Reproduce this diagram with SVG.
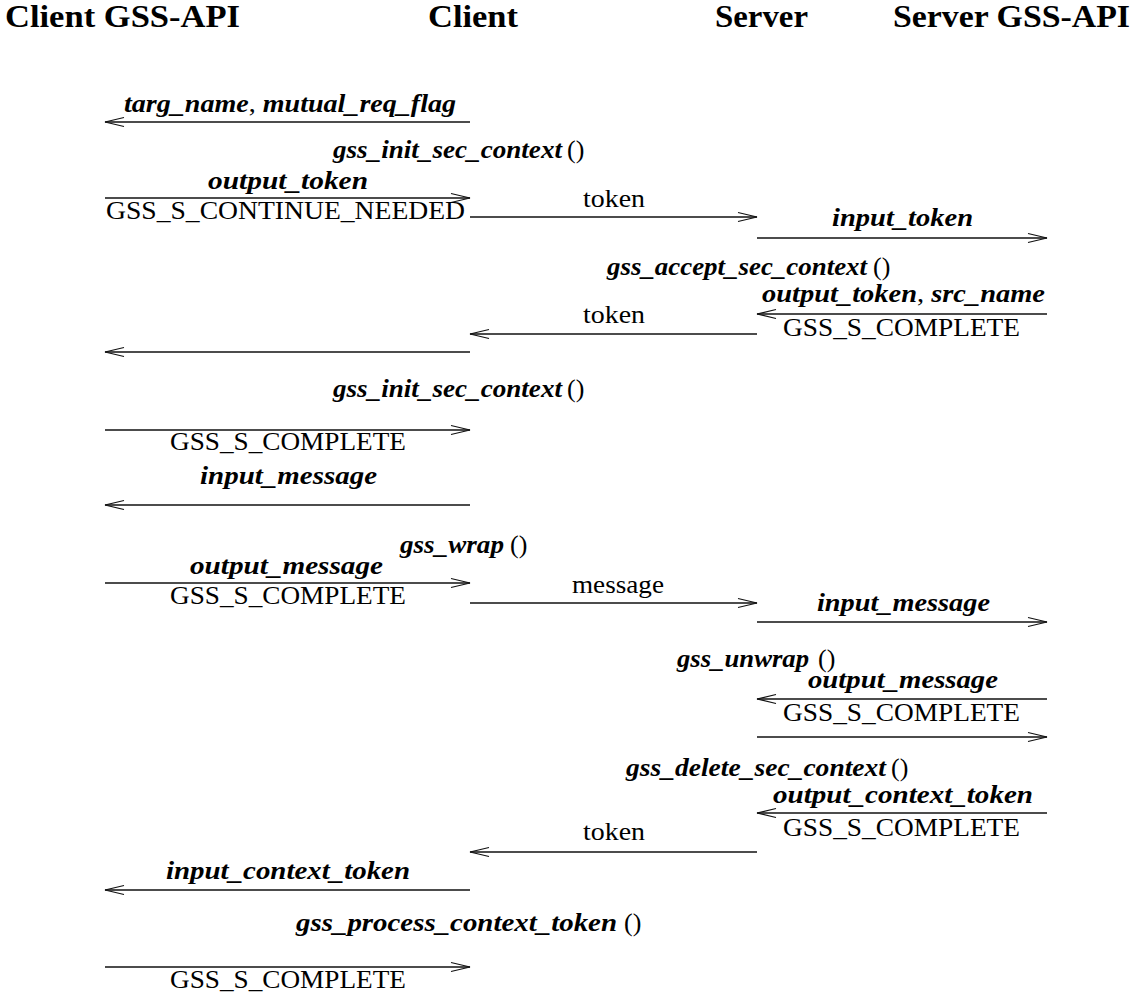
<svg xmlns="http://www.w3.org/2000/svg" width="1134" height="992" viewBox="0 0 1134 992">
<style>
text{font-family:"Liberation Serif","Times New Roman",serif;fill:#000}
.h{font-size:32px;font-weight:bold}
.bi{font-size:26px;font-weight:bold;font-style:italic}
.r{font-size:26px}
.c line{stroke:#111;stroke-width:1.4}
</style>
<defs>
<marker id="ah" viewBox="-20 -6 22 12" refX="0" refY="0" markerWidth="22" markerHeight="12" markerUnits="userSpaceOnUse" orient="auto">
<path d="M-19,-4.5 L0,0 L-19,4.5" fill="none" stroke="#111" stroke-width="1.2"/>
</marker>
</defs>
<rect width="1134" height="992" fill="#fff"/>
<g id="headers">
<g id="client-gssapi"><text class="h" x="5" y="27" textLength="235" lengthAdjust="spacingAndGlyphs">Client GSS-API</text></g>
<g id="client"><text class="h" x="428" y="27" textLength="90" lengthAdjust="spacingAndGlyphs">Client</text></g>
<g id="server"><text class="h" x="715" y="27" textLength="93" lengthAdjust="spacingAndGlyphs">Server</text></g>
<g id="server-gssapi"><text class="h" x="893" y="27" textLength="237" lengthAdjust="spacingAndGlyphs">Server GSS-API</text></g>
</g>
<g id="connectors" class="c">
<line x1="470" y1="122" x2="105" y2="122" marker-end="url(#ah)"/>
<line x1="105" y1="198" x2="470" y2="198" marker-end="url(#ah)"/>
<line x1="470" y1="217" x2="757" y2="217" marker-end="url(#ah)"/>
<line x1="757" y1="238" x2="1047" y2="238" marker-end="url(#ah)"/>
<line x1="1047" y1="314" x2="757" y2="314" marker-end="url(#ah)"/>
<line x1="757" y1="334" x2="470" y2="334" marker-end="url(#ah)"/>
<line x1="470" y1="352" x2="105" y2="352" marker-end="url(#ah)"/>
<line x1="105" y1="430" x2="470" y2="430" marker-end="url(#ah)"/>
<line x1="470" y1="505" x2="105" y2="505" marker-end="url(#ah)"/>
<line x1="105" y1="583" x2="470" y2="583" marker-end="url(#ah)"/>
<line x1="470" y1="603" x2="757" y2="603" marker-end="url(#ah)"/>
<line x1="757" y1="622" x2="1047" y2="622" marker-end="url(#ah)"/>
<line x1="1047" y1="699" x2="757" y2="699" marker-end="url(#ah)"/>
<line x1="757" y1="737" x2="1047" y2="737" marker-end="url(#ah)"/>
<line x1="1047" y1="813" x2="757" y2="813" marker-end="url(#ah)"/>
<line x1="757" y1="852" x2="470" y2="852" marker-end="url(#ah)"/>
<line x1="470" y1="890" x2="105" y2="890" marker-end="url(#ah)"/>
<line x1="105" y1="967" x2="470" y2="967" marker-end="url(#ah)"/>
</g>
<g id="labels">
<text class="bi" x="124" y="112" textLength="332" lengthAdjust="spacingAndGlyphs">targ_name<tspan font-weight="normal" font-style="normal">,</tspan> mutual_req_flag</text>
<g id="call-init-1"><text class="bi" x="333" y="158" textLength="229" lengthAdjust="spacingAndGlyphs">gss_init_sec_context</text><text class="r" x="567" y="158">()</text></g>
<text class="bi" x="208" y="189" textLength="160" lengthAdjust="spacingAndGlyphs">output_token</text>
<text class="r" x="106" y="219" textLength="359" lengthAdjust="spacingAndGlyphs">GSS_S_CONTINUE_NEEDED</text>
<text class="r" x="583" y="207" textLength="62" lengthAdjust="spacingAndGlyphs">token</text>
<text class="bi" x="832" y="226" textLength="141" lengthAdjust="spacingAndGlyphs">input_token</text>
<g id="call-accept"><text class="bi" x="607" y="275" textLength="260" lengthAdjust="spacingAndGlyphs">gss_accept_sec_context</text><text class="r" x="873" y="275">()</text></g>
<text class="bi" x="762" y="302" textLength="283" lengthAdjust="spacingAndGlyphs">output_token<tspan font-weight="normal" font-style="normal">,</tspan> src_name</text>
<text class="r" x="783" y="336" textLength="237" lengthAdjust="spacingAndGlyphs">GSS_S_COMPLETE</text>
<text class="r" x="583" y="323" textLength="62" lengthAdjust="spacingAndGlyphs">token</text>
<g id="call-init-2"><text class="bi" x="333" y="397" textLength="229" lengthAdjust="spacingAndGlyphs">gss_init_sec_context</text><text class="r" x="567" y="397">()</text></g>
<text class="r" x="170" y="450" textLength="236" lengthAdjust="spacingAndGlyphs">GSS_S_COMPLETE</text>
<text class="bi" x="200" y="484" textLength="177" lengthAdjust="spacingAndGlyphs">input_message</text>
<g id="call-wrap"><text class="bi" x="400" y="553" textLength="104" lengthAdjust="spacingAndGlyphs">gss_wrap</text><text class="r" x="510" y="553">()</text></g>
<text class="bi" x="190" y="574" textLength="193" lengthAdjust="spacingAndGlyphs">output_message</text>
<text class="r" x="170" y="604" textLength="236" lengthAdjust="spacingAndGlyphs">GSS_S_COMPLETE</text>
<text class="r" x="572" y="593" textLength="92" lengthAdjust="spacingAndGlyphs">message</text>
<text class="bi" x="817" y="611" textLength="173" lengthAdjust="spacingAndGlyphs">input_message</text>
<g id="call-unwrap"><text class="bi" x="677" y="667" textLength="132" lengthAdjust="spacingAndGlyphs">gss_unwrap</text><text class="r" x="818" y="667">()</text></g>
<text class="bi" x="808" y="688" textLength="190" lengthAdjust="spacingAndGlyphs">output_message</text>
<text class="r" x="783" y="721" textLength="237" lengthAdjust="spacingAndGlyphs">GSS_S_COMPLETE</text>
<g id="call-delete"><text class="bi" x="626" y="776" textLength="260" lengthAdjust="spacingAndGlyphs">gss_delete_sec_context</text><text class="r" x="891" y="776">()</text></g>
<text class="bi" x="773" y="803" textLength="260" lengthAdjust="spacingAndGlyphs">output_context_token</text>
<text class="r" x="783" y="836" textLength="237" lengthAdjust="spacingAndGlyphs">GSS_S_COMPLETE</text>
<text class="r" x="583" y="840" textLength="62" lengthAdjust="spacingAndGlyphs">token</text>
<text class="bi" x="166" y="879" textLength="244" lengthAdjust="spacingAndGlyphs">input_context_token</text>
<g id="call-process"><text class="bi" x="296" y="931" textLength="321" lengthAdjust="spacingAndGlyphs">gss_process_context_token</text><text class="r" x="624" y="931">()</text></g>
<text class="r" x="170" y="988" textLength="236" lengthAdjust="spacingAndGlyphs">GSS_S_COMPLETE</text>
</g>
</svg>
